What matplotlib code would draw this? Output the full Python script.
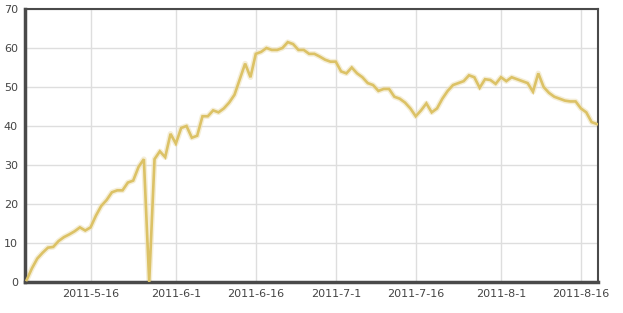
import matplotlib
matplotlib.use("Agg")
import matplotlib.pyplot as plt
import numpy as np
import datetime as dt
import matplotlib.dates as mdates

start_date = dt.date(2011, 5, 4)
values = [0.5, 3.5, 6, 7.5, 8.8, 9, 10.5, 11.5, 12.2, 13, 14, 13.2,
          14, 17, 19.5, 21, 23, 23.5, 23.5, 25.5, 26, 29.5, 31.5, 0,
          31.5, 33.5, 32, 38, 35.5, 39.5, 40, 37, 37.5, 42.5, 42.5, 44,
          43.5, 44.5, 46, 48, 52, 56, 52.5, 58.5, 59, 60, 59.5, 59.5,
          60, 61.5, 61, 59.5, 59.5, 58.5, 58.5, 57.8, 57, 56.5, 56.5, 54,
          53.5, 55, 53.5, 52.5, 51, 50.5, 49, 49.5, 49.5, 47.5, 47, 46,
          44.5, 42.5, 44, 45.8, 43.5, 44.5, 47, 49, 50.5, 51, 51.5, 53,
          52.5, 49.8, 52, 51.8, 50.8, 52.5, 51.5, 52.5, 52, 51.5, 51, 48.8,
          53.5, 50, 48.5, 47.5, 47, 46.5, 46.3, 46.3, 44.5, 43.5, 41, 40.5]
dates = [start_date + dt.timedelta(days=i) for i in range(len(values))]

xtick_dates = [dt.date(2011, 5, 16), dt.date(2011, 6, 1), dt.date(2011, 6, 16),
               dt.date(2011, 7, 1), dt.date(2011, 7, 16), dt.date(2011, 8, 1),
               dt.date(2011, 8, 16)]
xtick_labels = ["2011-5-16", "2011-6-1", "2011-6-16", "2011-7-1",
                "2011-7-16", "2011-8-1", "2011-8-16"]
yticks = [0, 10, 20, 30, 40, 50, 60, 70]

fig = plt.figure(figsize=(6.23, 3.13), dpi=100)
ax = fig.add_axes([25/623, 1-282/313, (598-25)/623, (282-9)/313])

ax.plot(dates, values, color="#efe3bd", lw=4.0, alpha=0.6, solid_joinstyle="round", zorder=2)
ax.plot(dates, values, color="#dcc266", lw=1.9, solid_joinstyle="miter", zorder=3)

ax.set_ylim(0, 70)
ax.set_xlim(mdates.date2num(dt.date(2011, 5, 4)) - 0.3, mdates.date2num(dt.date(2011, 8, 19)) + 0.2)
ax.set_yticks(yticks)
ax.set_xticks(xtick_dates)
ax.set_xticklabels(xtick_labels)
ax.grid(True, color="#dedede", lw=1)
ax.set_axisbelow(True)
ax.tick_params(length=0, labelsize=8, colors="#444444", pad=5)
ax.tick_params(axis="y", pad=5)
for s in ax.spines.values():
    s.set_color("#4a4a4a")
    s.set_linewidth(1.5)
ax.spines["left"].set_linewidth(2.5)
ax.spines["bottom"].set_linewidth(2.5)

fig.savefig("out.png", dpi=100)
